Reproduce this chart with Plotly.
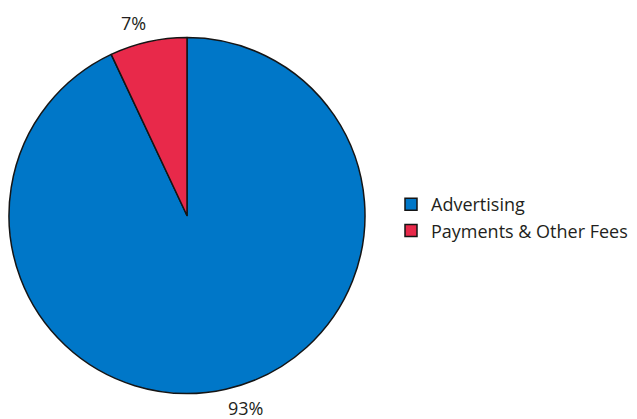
import math
import plotly.graph_objects as go

labels = ["Advertising", "Payments & Other Fees"]
values = [93, 7]
colors = ["#0077c8", "#e8294a"]

W, H = 637, 419
FONT = "Open Sans, sans-serif"
TEXT_COLOR = "#231f20"

# pie geometry in figure pixels
cx, cy, R = 179, 207.5, 178
label_r = 184

fig = go.Figure(go.Pie(
    labels=labels,
    values=values,
    sort=False,
    direction="clockwise",
    rotation=0,
    marker=dict(colors=colors, line=dict(color="#151515", width=1.5)),
    textinfo="none",
    hoverinfo="label+percent",
    domain=dict(x=[(cx - R) / W, (cx + R) / W],
                y=[(H - (cy + R)) / H, (H - (cy - R)) / H]),
    showlegend=True,
))

# outside percentage labels, placed at each slice's mid-angle
total = sum(values)
cum = 0.0
for v in values:
    mid = (cum + v / 2) / total * 2 * math.pi  # clockwise from 12 o'clock
    cum += v
    s, c = math.sin(mid), math.cos(mid)
    px = cx + label_r * s
    py = cy - label_r * c
    fig.add_annotation(
        x=px / W, y=1 - py / H, xref="paper", yref="paper",
        text=f"{round(v / total * 100)}%", showarrow=False,
        xanchor="left" if s > 0 else "right",
        yanchor="bottom" if c > 0 else "top",
        font=dict(family=FONT, size=18, color=TEXT_COLOR),
        borderpad=0,
    )

fig.update_layout(
    width=W, height=H,
    margin=dict(l=0, r=0, t=0, b=0),
    paper_bgcolor="white",
    font=dict(family=FONT, size=18, color=TEXT_COLOR),
    legend=dict(x=383 / W, y=0.5, xanchor="left", yanchor="middle",
                font=dict(family=FONT, size=18, color=TEXT_COLOR)),
)

fig.write_html("out.html")
